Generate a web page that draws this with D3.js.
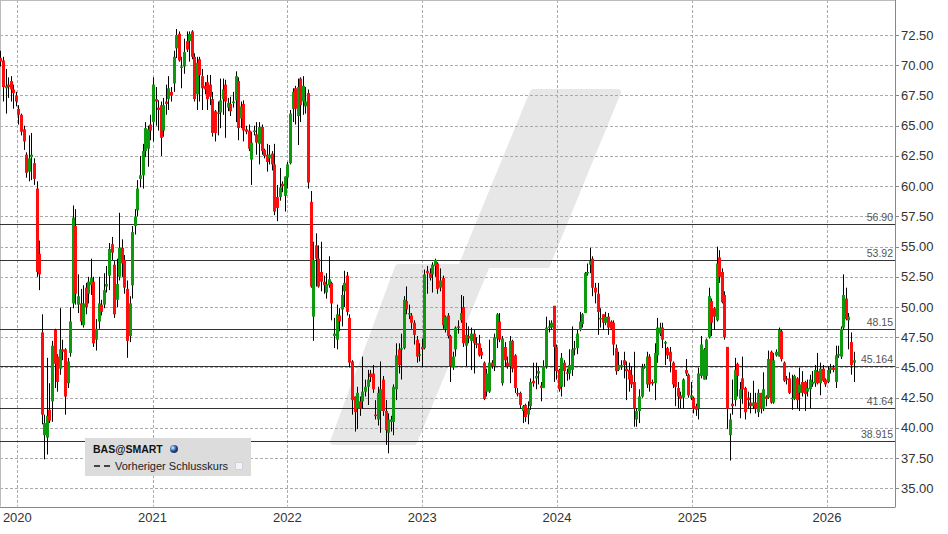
<!DOCTYPE html>
<html><head><meta charset="utf-8">
<script src="https://cdn.jsdelivr.net/npm/d3@7"></script>
<style>html,body{margin:0;padding:0;background:#fff;}svg{display:block;font-family:"Liberation Sans",Arial,sans-serif;}</style>
</head><body>
<svg id="chart" width="948" height="534"></svg>
<script>
// ---- data (weekly candles, BAS@SMART) ----
const firstWeek = [2019, 10, 16]; // y, m(0-based), d of first candle
const opens = [
70.6,70.4,68.1,68.4,68.7,68.0,67.5,66.4,65.9,64.7,62.6,61.2,62.4,61.9,59.8,54.4,47.9,39.4,39.2,41.5,42.2,48.1,45.9,44.9,46.5,46.5,43.7,46.2,50.3,56.7,50.2,50.3,48.5,51.6,51.1,51.8,52.1,47.3,48.8,50.2,50.2,51.7,52.6,55.2,53.5,50.6,52.5,54.9,53.9,51.5,47.6,51.8,56.7,58.0,60.6,60.9,62.9,63.1,65.1,65.3,67.2,66.5,66.7,64.6,67.0,67.2,67.8,68.5,71.4,
72.6,69.8,69.9,72.0,72.0,72.8,70.7,67.6,70.5,69.1,68.3,68.6,68.4,67.2,66.2,66.0,66.1,67.2,68.4,66.5,66.8,66.9,67.1,68.7,65.6,66.8,64.7,64.6,62.2,64.5,64.3,63.5,64.9,63.0,62.6,62.3,62.7,61.8,59.1,59.1,60.2,59.2,60.7,61.9,66.4,68.1,65.8,68.9,67.0,66.6,67.7,58.7,49.2,55.1,54.0,52.9,52.1,51.2,51.8,52.0,47.6,47.3,49.3,49.8,51.3,52.6,49.1,45.5,42.6,
41.6,42.2,42.2,43.0,43.4,44.5,44.5,41.1,40.7,41.4,44.0,41.4,39.6,40.5,40.5,43.2,46.5,46.5,46.6,50.5,49.4,49.3,48.7,47.3,46.0,46.7,46.6,53.0,52.8,52.7,53.4,53.6,51.6,52.4,48.2,49.3,47.6,45.0,46.5,48.4,48.9,50.0,46.8,47.6,47.2,47.8,47.0,47.0,46.3,45.4,43.0,43.0,45.4,45.1,47.4,48.8,43.7,46.7,45.4,45.1,47.2,46.0,42.9,42.9,41.4,
41.9,41.1,41.8,43.9,44.1,44.5,43.5,43.3,45.1,48.3,48.3,50.1,46.7,44.8,43.4,45.4,44.6,44.5,44.8,46.5,46.6,48.1,48.6,49.5,52.8,53.5,54.0,51.6,51.1,49.0,49.4,48.7,49.2,48.8,48.7,46.6,44.8,45.1,45.6,44.9,44.8,44.4,43.8,40.7,41.4,42.6,45.0,43.6,45.9,43.8,43.7,46.0,47.8,48.3,47.0,46.6,46.3,45.4,44.8,43.3,42.7,42.5,44.8,44.4,42.5,42.5,41.8,41.6,44.3,44.0,
44.3,47.5,50.5,49.9,48.9,54.1,52.9,51.0,46.7,39.4,42.0,42.3,45.3,42.4,44.1,43.3,42.5,42.1,41.8,42.1,41.3,42.9,41.6,42.6,42.5,46.3,42.1,46.0,45.9,48.0,45.4,44.1,44.1,42.4,42.4,44.1,42.9,43.8,43.8,43.0,43.2,43.6,43.7,44.7,43.7,44.9,44.0,43.8,44.8,45.0,43.8,46.0,45.9,48.3,50.7,48.9,47.1,45.4
];
const highs = [
71.2,70.7,69.7,69.0,69.1,68.4,67.8,66.7,66.0,65.0,62.8,64.2,64.4,62.3,60.4,55.5,49.4,41.1,45.8,43.7,47.2,48.2,46.1,49.9,47.3,46.6,45.8,50.0,58.4,58.1,52.7,51.5,51.8,52.0,52.5,54.0,52.5,49.0,52.5,50.6,52.8,53.4,55.3,55.8,53.8,54.0,57.8,55.6,54.3,52.2,50.9,56.7,58.1,60.5,62.5,63.5,65.3,65.0,65.9,69.0,68.2,67.1,67.0,67.3,68.4,69.1,68.2,71.2,73.0,
72.8,70.7,72.2,72.8,72.8,72.9,71.0,70.7,70.7,69.7,68.6,69.2,69.2,67.8,66.3,67.0,68.9,68.9,68.8,67.3,67.4,67.8,69.5,69.0,67.0,67.1,65.0,65.1,64.5,65.0,65.3,65.3,65.1,63.1,63.5,63.4,62.9,63.5,60.1,61.5,60.4,60.8,62.0,66.3,68.1,68.3,68.9,69.0,69.1,68.2,68.0,59.6,55.4,56.1,55.1,55.4,52.6,52.8,54.2,52.1,49.1,50.2,49.9,51.8,53.0,52.9,49.4,45.6,42.6,
43.4,42.6,45.9,44.0,44.8,44.8,45.2,42.3,43.4,45.5,44.3,42.3,41.2,41.0,43.6,47.0,47.0,47.8,50.9,51.7,50.2,49.5,48.9,47.6,47.0,47.4,53.1,53.4,53.2,53.7,54.0,53.7,53.2,52.6,49.3,49.5,47.7,46.3,48.4,48.9,51.0,50.9,48.7,48.4,48.3,48.1,47.5,47.7,46.6,45.5,44.9,47.3,45.6,47.8,49.5,49.5,47.6,47.1,45.9,47.6,47.3,46.1,43.3,43.0,41.9,
42.0,42.2,44.1,45.4,45.4,45.1,43.8,45.6,49.2,48.9,48.9,50.1,46.9,44.9,46.2,45.6,44.9,46.5,48.4,47.2,48.1,49.6,49.5,52.9,53.6,54.9,54.2,52.0,52.0,49.9,49.4,49.6,49.5,48.9,48.9,46.9,46.3,45.6,46.3,45.5,45.4,45.1,46.3,41.6,43.2,45.3,45.3,46.3,46.1,44.0,47.0,49.1,48.7,48.7,47.2,46.7,46.7,45.5,44.8,43.8,43.0,44.1,45.7,44.5,43.8,42.6,42.0,45.0,47.6,46.6,
47.4,51.6,50.7,50.0,55.0,54.7,53.2,51.3,46.7,41.2,44.0,45.8,45.4,43.8,45.9,43.4,43.0,42.9,43.9,42.9,43.2,42.9,44.6,42.7,46.4,46.4,46.2,46.5,48.3,48.1,45.5,44.3,44.6,44.4,44.4,44.2,45.0,44.7,43.9,44.0,44.4,44.7,45.2,46.2,45.4,45.2,44.1,45.1,45.3,45.2,46.8,46.8,48.4,52.7,51.6,49.5,47.9,46.3
];
const lows = [
69.9,67.0,66.0,67.3,67.0,66.4,66.6,65.1,64.2,63.0,60.7,60.4,60.5,60.1,52.5,51.4,40.3,37.4,37.8,40.4,40.5,43.3,43.0,44.4,45.6,41.1,43.3,45.9,49.9,50.2,49.5,48.5,48.3,49.4,50.3,51.0,46.7,46.4,48.2,49.3,49.9,51.2,51.4,53.9,49.1,50.0,52.2,52.5,51.1,45.8,47.1,50.7,56.0,57.5,59.9,59.8,62.4,61.6,63.8,63.7,65.0,64.6,62.5,64.1,65.9,66.3,67.0,67.8,70.6,
70.3,68.1,69.3,71.1,70.3,70.5,67.0,66.3,67.0,66.3,67.6,66.3,66.7,64.1,63.7,64.2,64.8,65.9,64.0,66.2,65.8,66.5,65.3,63.8,64.8,63.7,64.3,62.9,60.1,64.2,62.6,61.8,62.6,62.3,61.2,61.8,61.3,57.6,57.1,58.8,59.5,57.9,59.8,61.8,65.3,65.1,63.4,65.3,65.9,66.0,59.8,51.6,47.2,51.7,51.6,51.3,51.1,50.7,51.6,48.9,46.6,46.5,48.0,48.4,50.0,49.3,45.0,41.1,39.7,
39.9,41.0,41.6,42.6,41.9,43.8,42.9,40.7,40.2,39.6,41.0,38.6,37.9,39.7,39.4,42.3,44.5,44.0,46.5,49.4,49.0,48.2,46.9,45.4,45.5,45.0,46.5,51.1,52.2,51.2,52.5,51.1,51.3,48.2,47.9,47.4,43.8,44.8,45.9,47.8,48.7,46.7,45.1,47.0,44.8,44.5,46.6,45.9,45.7,42.3,42.6,42.9,44.9,44.7,46.6,47.1,43.5,45.1,44.9,43.7,44.6,42.9,42.6,41.6,40.4,
40.5,40.3,41.5,43.4,43.2,43.6,42.2,43.3,44.9,47.9,48.1,43.8,44.0,43.0,42.6,43.4,43.9,44.0,44.3,46.0,46.1,48.0,48.3,49.5,52.6,52.8,50.9,50.3,47.7,48.3,48.1,48.5,47.7,48.1,46.0,44.4,44.7,44.8,44.1,42.3,43.0,43.3,40.1,40.1,40.4,42.5,44.9,43.3,43.0,43.5,42.3,45.4,47.6,46.6,45.2,45.7,44.6,43.3,41.8,41.6,41.6,41.6,44.3,42.5,42.3,41.2,41.0,40.7,44.1,44.0,
44.0,47.4,47.6,48.1,48.8,52.0,50.3,47.3,39.9,37.3,41.1,41.8,42.6,40.8,42.0,40.7,41.6,41.2,41.6,41.2,40.9,41.2,41.4,41.8,42.4,42.0,42.0,45.9,45.9,45.5,43.8,43.6,42.8,41.5,42.3,41.6,41.4,42.6,41.4,42.6,41.6,43.4,43.4,43.6,42.7,43.8,43.4,43.7,44.5,44.6,43.3,45.8,45.7,48.1,48.9,46.5,44.4,43.8
];
const closes = [
70.3,68.2,68.3,68.2,68.0,67.7,67.0,65.9,64.5,63.7,61.1,62.3,62.6,60.6,52.9,52.7,41.1,40.4,41.0,40.6,46.8,45.3,43.8,46.5,46.3,42.6,45.5,48.8,57.4,51.1,50.9,48.8,50.3,50.0,52.1,52.4,47.0,48.2,50.3,49.6,51.4,51.9,54.8,54.5,49.4,51.9,54.9,53.6,51.6,47.2,50.3,56.2,57.5,59.8,60.9,62.9,64.8,64.7,64.6,68.4,67.0,66.3,64.0,66.7,66.8,68.1,67.5,70.7,72.5,
70.4,69.9,71.1,71.3,72.6,70.7,67.2,70.2,69.2,68.1,68.0,67.2,67.4,64.4,64.4,66.1,67.1,68.0,67.0,66.9,66.2,67.0,69.1,64.8,66.6,64.6,64.5,63.1,63.6,64.6,63.6,64.9,62.9,62.5,62.0,62.6,61.8,57.9,58.2,59.9,60.0,60.8,61.8,66.0,67.8,66.4,68.2,66.7,68.3,67.0,60.3,51.7,53.9,54.0,51.7,52.1,51.8,51.9,52.3,50.3,47.8,49.4,48.8,51.0,52.0,49.6,45.4,42.3,41.3,
42.9,41.6,43.0,43.4,44.0,44.2,43.2,41.0,42.9,43.2,41.4,39.8,40.7,40.7,43.4,46.0,45.2,46.6,50.6,49.8,49.5,48.7,47.7,45.9,46.1,46.5,52.7,52.8,52.4,53.5,53.9,51.5,52.2,48.5,49.2,47.6,45.1,45.9,48.3,48.3,49.5,47.0,47.7,47.4,47.8,47.0,46.9,46.0,46.0,42.4,44.5,45.4,45.1,47.5,49.4,47.3,47.4,45.6,45.1,47.2,44.9,43.3,42.8,41.9,41.8,
40.9,41.6,43.8,43.7,44.3,44.7,43.3,45.1,48.3,48.4,48.7,46.7,44.7,43.2,45.8,44.7,44.5,45.2,46.5,46.6,47.8,48.8,49.4,52.8,52.9,53.8,51.6,51.2,49.6,49.1,48.7,49.2,48.3,48.2,46.9,44.7,45.2,45.2,45.2,44.7,44.0,43.6,41.6,41.4,42.6,45.0,45.1,45.9,43.6,43.7,46.2,48.3,48.3,47.3,47.1,46.0,45.5,43.6,43.4,42.6,42.4,44.0,44.5,42.7,42.7,41.6,41.5,44.5,46.9,46.5,
47.3,50.9,48.7,49.2,53.6,52.5,50.4,47.5,41.6,40.7,41.8,44.8,44.3,43.2,43.2,41.3,42.3,41.8,42.1,41.6,42.9,41.6,43.2,42.4,45.7,42.1,45.6,46.3,48.1,45.7,43.9,44.0,42.9,42.5,44.3,42.3,43.6,42.9,42.8,43.3,44.0,43.8,44.8,43.7,44.9,43.9,43.6,44.8,45.0,44.8,46.0,46.1,48.2,51.0,49.0,49.2,45.2,45.6
];
const levels = [56.90, 53.92, 48.15, 45.164, 41.64, 38.915];
const levelLabels = ["56.90", "53.92", "48.15", "45.164", "41.64", "38.915"];
const yTicks = [35, 37.5, 40, 42.5, 45, 47.5, 50, 52.5, 55, 57.5, 60, 62.5, 65, 67.5, 70, 72.5];
const years = [2020, 2021, 2022, 2023, 2024, 2025, 2026];
const legendTitle = "BAS@SMART";
const legendItem = "Vorheriger Schlusskurs";

// ---- layout ----
const plotR = 895, plotB = 506.5;
const svg = d3.select("#chart");

const x = d3.scaleTime().domain([new Date(2019, 10, 15), new Date(2026, 6, 4)]).range([0, plotR]);
const y = d3.scaleLinear().domain([33.5, 75.4]).range([plotB, 0]);

const candles = opens.map((o, i) => ({
  date: new Date(firstWeek[0], firstWeek[1], firstWeek[2] + 7 * i),
  o, h: highs[i], l: lows[i], c: closes[i]
}));

const defs = svg.append("defs");
defs.append("clipPath").attr("id", "plotclip")
  .append("rect").attr("x", 0).attr("y", 0).attr("width", plotR).attr("height", plotB);

// watermark logo
const wm = [[533,92],[618,92],[547,265],[487,265],[414,442],[333,442],[398,267],[461,267]];
svg.append("path")
  .attr("d", "M" + wm.map(p => p.join(",")).join("L") + "Z")
  .attr("fill", "#e7e7e7").attr("stroke", "#e7e7e7")
  .attr("stroke-width", 6).attr("stroke-linejoin", "round");

// gridlines
const grid = svg.append("g");
grid.selectAll("line.hg").data(yTicks).join("line")
  .attr("x1", 0).attr("x2", plotR)
  .attr("y1", d => Math.round(y(d)) + 0.5).attr("y2", d => Math.round(y(d)) + 0.5)
  .attr("stroke", "#aaaaaa").attr("stroke-dasharray", "3,2");
grid.selectAll("line.vg").data(years).join("line")
  .attr("x1", d => Math.round(x(new Date(d, 0, 1))) + 0.5)
  .attr("x2", d => Math.round(x(new Date(d, 0, 1))) + 0.5)
  .attr("y1", 0).attr("y2", plotB)
  .attr("stroke", "#aaaaaa").attr("stroke-dasharray", "3,2");

// frame
svg.append("line").attr("x1", 0).attr("x2", plotR).attr("y1", 0.5).attr("y2", 0.5).attr("stroke", "#bbbbbb");
svg.append("line").attr("x1", 0.5).attr("x2", 0.5).attr("y1", 0).attr("y2", plotB).attr("stroke", "#bbbbbb");
svg.append("line").attr("x1", plotR + 0.5).attr("x2", plotR + 0.5).attr("y1", 0).attr("y2", plotB + 0.5).attr("stroke", "#888888");
svg.append("line").attr("x1", 0).attr("x2", plotR + 0.5).attr("y1", Math.round(plotB) + 0.5).attr("y2", Math.round(plotB) + 0.5).attr("stroke", "#888888");

// level lines
const lv = svg.append("g");
lv.selectAll("line").data(levels).join("line")
  .attr("x1", 0).attr("x2", plotR)
  .attr("y1", d => Math.round(y(d)) + 0.5).attr("y2", d => Math.round(y(d)) + 0.5)
  .attr("stroke", "#333333").attr("stroke-width", 1.2);

// candles
const cg = svg.append("g").attr("clip-path", "url(#plotclip)");
const cs = cg.selectAll("g.c").data(candles).join("g");
cs.append("line")
  .attr("x1", d => Math.round(x(d.date)) + 0.5).attr("x2", d => Math.round(x(d.date)) + 0.5)
  .attr("y1", d => y(Math.max(d.h, d.o, d.c))).attr("y2", d => y(Math.min(d.l, d.o, d.c)))
  .attr("stroke", "#000").attr("stroke-width", 1);
cs.append("rect")
  .attr("x", d => Math.round(x(d.date)) - 1)
  .attr("width", 3)
  .attr("y", d => y(Math.max(d.o, d.c)))
  .attr("height", d => Math.max(1.5, Math.abs(y(d.o) - y(d.c))))
  .attr("fill", d => d.c >= d.o ? "#0e9a0e" : "#ff0c0c");

// level labels
lv.selectAll("text").data(levels).join("text")
  .attr("x", 893).attr("y", d => Math.round(y(d)) - 3)
  .attr("text-anchor", "end").attr("font-size", 10.5).attr("fill", "#555")
  .text((d, i) => levelLabels[i]);

// y axis labels
const ya = svg.append("g");
ya.selectAll("line").data(yTicks).join("line")
  .attr("x1", plotR).attr("x2", plotR + 4)
  .attr("y1", d => Math.round(y(d)) + 0.5).attr("y2", d => Math.round(y(d)) + 0.5)
  .attr("stroke", "#888");
ya.selectAll("text").data(yTicks).join("text")
  .attr("x", 901).attr("y", d => y(d)).attr("dy", "0.35em")
  .attr("font-size", 13).attr("fill", "#333")
  .text(d => d3.format(".2f")(d));

// x axis labels
svg.append("g").selectAll("text").data(years).join("text")
  .attr("x", d => x(new Date(d, 0, 1))).attr("y", 517).attr("dy", "0.35em")
  .attr("text-anchor", "middle").attr("font-size", 13).attr("fill", "#333")
  .text(d => d);

// legend
const lg = svg.append("g");
lg.append("rect").attr("x", 85).attr("y", 438).attr("width", 166).attr("height", 38).attr("fill", "#dcdcdc");
lg.append("text").attr("x", 93).attr("y", 449).attr("dy", "0.35em")
  .attr("font-size", 10.5).attr("font-weight", "bold").attr("fill", "#111").text(legendTitle);
const gr = defs.append("radialGradient").attr("id", "globe").attr("cx", "35%").attr("cy", "35%");
gr.append("stop").attr("offset", "0%").attr("stop-color", "#e8f0ff");
gr.append("stop").attr("offset", "60%").attr("stop-color", "#4a7fc0");
gr.append("stop").attr("offset", "100%").attr("stop-color", "#1c3c70");
lg.append("circle").attr("cx", 174).attr("cy", 449).attr("r", 4).attr("fill", "url(#globe)");
lg.append("line").attr("x1", 94).attr("x2", 110).attr("y1", 466).attr("y2", 466)
  .attr("stroke", "#444").attr("stroke-width", 2).attr("stroke-dasharray", "6,4");
lg.append("text").attr("x", 115).attr("y", 466).attr("dy", "0.35em")
  .attr("font-size", 11).attr("fill", "#222").text(legendItem);
lg.append("rect").attr("x", 235.5).attr("y", 462.5).attr("width", 7).attr("height", 7)
  .attr("fill", "#f3f3fa").attr("stroke", "#d0d0dc");
</script>
</body></html>
